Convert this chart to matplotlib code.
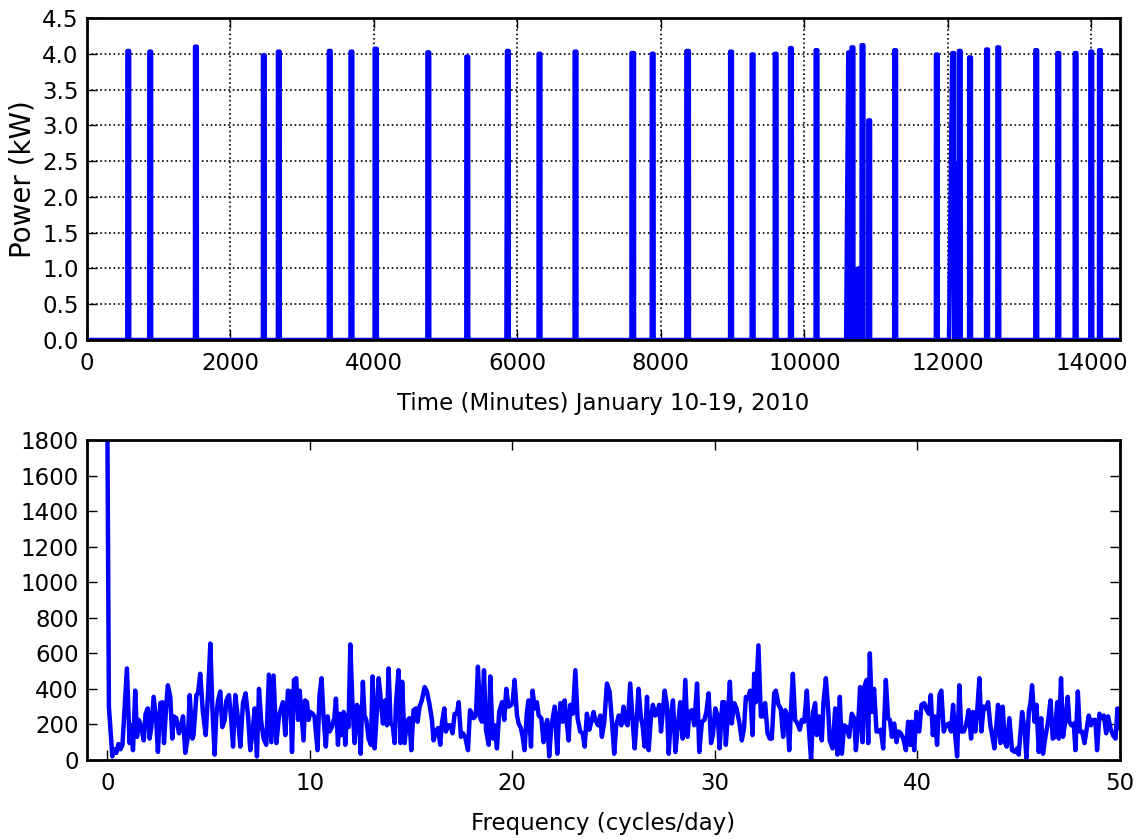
import numpy as np
import matplotlib
matplotlib.use("Agg")
import matplotlib.pyplot as plt
from matplotlib.ticker import FormatStrFormatter

# --- top panel: heater on-events (centre minute, duration, kW, ramp-up minutes)
ev_mid = [575, 881, 1518, 2465, 2674, 3384, 3686, 4025, 4758, 5301, 5867, 6308,
          6810, 7608, 7886, 8373, 8978, 9279, 9600, 9813, 10170, 10625, 10671,
          10751, 10811, 10904, 11266, 11847, 12074, 12120, 12167, 12310, 12547,
          12704, 13233, 13540, 13782, 14000, 14121]
ev_len = [25, 25, 25, 25, 25, 25, 25, 30, 25, 25, 25, 25,
          25, 35, 25, 35, 25, 25, 25, 25, 25, 25, 25,
          10, 25, 25, 25, 25, 25, 40, 25, 25, 25,
          25, 25, 25, 25, 25, 25]
ev_kw = [4.04, 4.03, 4.10, 3.98, 4.03, 4.04, 4.03, 4.07, 4.02, 3.96, 4.04, 4.00,
         4.03, 4.01, 4.00, 4.04, 4.03, 3.99, 4.00, 4.08, 4.05, 4.02, 4.09,
         1.00, 4.12, 3.07, 4.05, 3.99, 4.01, 2.46, 4.04, 3.95, 4.06,
         4.09, 4.05, 4.01, 4.01, 4.03, 4.05]
ev_rise = [1, 1, 1, 1, 1, 1, 1, 1, 1, 1, 8, 1,
           1, 1, 1, 1, 1, 1, 1, 1, 1, 30, 1,
           25, 1, 1, 1, 1, 45, 1, 1, 1, 1,
           1, 1, 1, 1, 1, 1]
t_end = 14400

# --- bottom panel: power spectrum
freq = [0.0, 0.08, 0.25, 0.35, 0.45, 0.55, 0.65, 0.75, 0.97, 1.1, 1.18, 1.27, 1.38, 1.47,
        1.56, 1.68, 1.8, 1.89, 2.0, 2.09, 2.17, 2.29, 2.42, 2.5, 2.62, 2.72, 2.8, 2.91,
        2.99, 3.11, 3.21, 3.28, 3.41, 3.54, 3.65, 3.74, 3.85, 3.98, 4.07, 4.2, 4.26, 4.4,
        4.48, 4.59, 4.72, 4.86, 4.97, 5.09, 5.19, 5.3, 5.38, 5.47, 5.58, 5.68, 5.8, 5.88,
        6.01, 6.12, 6.21, 6.32, 6.45, 6.57, 6.7, 6.83, 6.95, 7.06, 7.19, 7.28, 7.39, 7.49,
        7.6, 7.72, 7.85, 7.98, 8.1, 8.21, 8.35, 8.48, 8.67, 8.79, 8.92, 9.04, 9.12, 9.22,
        9.33, 9.42, 9.5, 9.69, 9.77, 9.86, 9.94, 10.02, 10.14, 10.23, 10.38, 10.48, 10.58,
        10.68, 10.79, 10.88, 10.98, 11.09, 11.21, 11.29, 11.39, 11.47, 11.55, 11.67, 11.75,
        11.83, 11.91, 12.0, 12.11, 12.21, 12.33, 12.41, 12.51, 12.62, 12.7, 12.79, 12.9,
        13.02, 13.1, 13.2, 13.31, 13.4, 13.53, 13.61, 13.72, 13.81, 13.89, 13.99, 14.09,
        14.19, 14.25, 14.38, 14.48, 14.56, 14.68, 14.79, 14.91, 15.01, 15.12, 15.24, 15.32,
        15.42, 15.53, 15.67, 15.78, 15.9, 16.03, 16.11, 16.23, 16.33, 16.44, 16.52, 16.64,
        16.72, 16.82, 16.93, 17.05, 17.15, 17.26, 17.35, 17.46, 17.56, 17.67, 17.81, 17.91,
        18.0, 18.09, 18.2, 18.3, 18.42, 18.5, 18.6, 18.7, 18.83, 18.91, 19.03, 19.12, 19.24,
        19.35, 19.49, 19.6, 19.7, 19.81, 19.95, 20.01, 20.11, 20.23, 20.31, 20.42, 20.51,
        20.6, 20.72, 20.8, 20.92, 21.0, 21.1, 21.21, 21.3, 21.43, 21.54, 21.63, 21.72, 21.82,
        21.92, 22.09, 22.22, 22.28, 22.37, 22.48, 22.58, 22.7, 22.78, 22.86, 22.99, 23.11,
        23.22, 23.35, 23.47, 23.57, 23.68, 23.8, 23.9, 24.01, 24.09, 24.23, 24.34, 24.42,
        24.54, 24.67, 24.8, 24.92, 25.03, 25.13, 25.25, 25.38, 25.49, 25.58, 25.69, 25.82,
        25.94, 26.04, 26.15, 26.23, 26.35, 26.43, 26.53, 26.65, 26.73, 26.84, 26.94, 27.06,
        27.14, 27.25, 27.34, 27.42, 27.52, 27.63, 27.72, 27.83, 27.93, 28.05, 28.16, 28.29,
        28.41, 28.54, 28.65, 28.74, 28.87, 28.98, 29.12, 29.23, 29.36, 29.48, 29.58, 29.69,
        29.81, 29.9, 30.02, 30.14, 30.23, 30.37, 30.46, 30.54, 30.64, 30.74, 30.83, 30.95,
        31.07, 31.2, 31.33, 31.44, 31.53, 31.64, 31.74, 31.86, 31.94, 32.02, 32.15, 32.27,
        32.38, 32.48, 32.6, 32.71, 32.81, 32.93, 33.01, 33.14, 33.25, 33.37, 33.47, 33.58,
        33.67, 33.75, 33.85, 33.96, 34.08, 34.19, 34.29, 34.41, 34.54, 34.65, 34.75, 34.85,
        34.95, 35.03, 35.15, 35.28, 35.36, 35.48, 35.59, 35.67, 35.81, 35.94, 36.05, 36.17,
        36.27, 36.38, 36.5, 36.63, 36.76, 36.88, 36.96, 37.07, 37.17, 37.29, 37.37, 37.49,
        37.57, 37.65, 37.75, 37.86, 37.98, 38.08, 38.19, 38.31, 38.44, 38.55, 38.64, 38.74,
        38.85, 38.97, 39.06, 39.18, 39.3, 39.43, 39.54, 39.64, 39.72, 39.84, 39.95, 40.09,
        40.2, 40.33, 40.46, 40.56, 40.66, 40.76, 40.85, 40.97, 41.09, 41.18, 41.3, 41.41,
        41.55, 41.66, 41.76, 41.88, 41.96, 42.07, 42.17, 42.29, 42.4, 42.53, 42.65, 42.75,
        42.86, 42.96, 43.06, 43.16, 43.27, 43.39, 43.49, 43.6, 43.72, 43.8, 43.88, 43.98,
        44.1, 44.21, 44.31, 44.41, 44.54, 44.67, 44.81, 44.92, 45.0, 45.17, 45.3, 45.38,
        45.5, 45.58, 45.66, 45.78, 45.88, 45.99, 46.11, 46.2, 46.32, 46.45, 46.57, 46.68,
        46.78, 46.9, 46.98, 47.09, 47.19, 47.31, 47.42, 47.5, 47.6, 47.72, 47.8, 47.92,
        48.02, 48.13, 48.25, 48.34, 48.46, 48.57, 48.67, 48.79, 48.87, 48.99, 49.09, 49.2,
        49.32, 49.41, 49.53, 49.65, 49.78, 49.88, 49.97]
power = [2000, 300, 20, 60, 40, 90, 60, 85, 515, 95, 195, 55, 390, 130,
         225, 185, 110, 260, 290, 120, 180, 355, 215, 45, 320, 325, 95, 300,
         420, 355, 120, 245, 235, 150, 195, 245, 40, 130, 365, 120, 140, 365,
         375, 485, 270, 140, 365, 655, 290, 30, 245, 335, 385, 185, 225, 335,
         365, 225, 75, 365, 235, 75, 320, 375, 250, 55, 180, 290, 20, 400,
         215, 120, 85, 480, 100, 475, 95, 250, 325, 140, 390, 385, 45, 450,
         460, 225, 390, 110, 335, 325, 225, 270, 260, 245, 55, 365, 460,
         235, 75, 245, 160, 185, 235, 345, 85, 260, 140, 270, 85,
         250, 185, 650, 300, 95, 310, 290, 35, 440, 250, 225, 120,
         85, 470, 65, 270, 460, 310, 205, 335, 195, 515, 205, 195,
         95, 310, 505, 95, 440, 95, 215, 235, 55, 280, 290, 215,
         300, 335, 410, 385, 320, 225, 110, 160, 180, 85, 205, 290,
         160, 195, 195, 150, 260, 260, 325, 130, 150, 130, 55, 280,
         260, 235, 250, 525, 235, 215, 505, 170, 85, 470, 120, 195, 65,
         270, 325, 225, 400, 300, 310, 320, 450, 250, 205, 180, 130,
         55, 270, 335, 75, 390, 290, 325, 250, 235, 100, 185, 225, 20,
         185, 300, 35, 195, 320, 215, 335, 195, 110, 310, 260, 505,
         235, 160, 150, 75, 260, 170, 215, 270, 225, 195, 250, 130,
         215, 430, 385, 215, 35, 195, 250, 195, 300, 215, 195, 430,
         215, 65, 245, 400, 235, 195, 75, 355, 55, 235, 310, 250,
         260, 310, 160, 260, 390, 310, 35, 250, 335, 45, 180, 325,
         120, 450, 130, 270, 280, 195, 430, 45, 215, 225, 270, 375,
         95, 140, 290, 250, 65, 325, 325, 85, 250, 440, 205, 320,
         290, 215, 110, 180, 355, 345, 390, 140, 485, 325, 645, 245,
         245, 320, 150, 120, 120, 375, 390, 310, 290, 130, 280, 245,
         55, 270, 485, 225, 205, 170, 225, 215, 390, 160, 0, 270,
         320, 140, 245, 110, 320, 460, 290, 110, 65, 290, 30, 355,
         35, 195, 185, 130, 260, 235, 55, 195, 410, 100, 410, 450,
         95, 600, 270, 400, 160, 160, 170, 65, 450, 235, 225, 130,
         205, 100, 160, 150, 120, 55, 215, 85, 215, 55, 270, 160,
         310, 320, 280, 260, 365, 140, 245, 85, 365, 390, 160, 195,
         205, 160, 310, 120, 20, 420, 160, 160, 195, 280, 120, 270,
         160, 290, 460, 160, 300, 290, 325, 195, 120, 65, 170, 310,
         95, 300, 100, 75, 235, 55, 45, 65, 30, 270, 160, 10,
         270, 320, 420, 215, 310, 45, 235, 35, 130, 215, 335, 120,
         130, 325, 120, 460, 130, 225, 355, 215, 195, 205, 55, 385,
         160, 160, 95, 160, 250, 195, 225, 225, 55, 260, 235, 250,
         150, 245, 180, 140, 120, 290, 180]

plt.rcParams["font.family"] = ["DejaVu Sans"]
fs = 16.5

# build the minute series from the events
t, p = [0], [0.0]
for mid, ln, kw, rise in zip(ev_mid, ev_len, ev_kw, ev_rise):
    s, e = mid - ln / 2, mid + ln / 2
    t += [s - rise, s, e, e + 1]
    p += [0, kw, kw, 0]
t.append(t_end)
p.append(0)

fig = plt.figure(figsize=(11.42, 8.39), dpi=100)
ax1 = fig.add_axes([0.0762, 0.5948, 0.9045, 0.3837])
ax2 = fig.add_axes([0.0762, 0.0942, 0.9045, 0.3814])

ax1.plot(t, p, color="blue", lw=3.2, solid_joinstyle="round", solid_capstyle="round")
ax1.set_xlim(0, t_end)
ax1.set_ylim(0, 4.5)
ax1.set_xticks(np.arange(0, 14001, 2000))
ax1.set_yticks(np.arange(0, 4.51, 0.5))
ax1.yaxis.set_major_formatter(FormatStrFormatter("%.1f"))
ax1.grid(True, color="black", linestyle=":", lw=1.2)
ax1.set_xlabel("Time (Minutes) January 10-19, 2010", fontsize=fs, labelpad=12)
ax1.set_ylabel("Power (kW)", fontsize=20, labelpad=4)

ax2.plot(freq, power, color="blue", lw=3.2, solid_joinstyle="round")
ax2.set_xlim(-1, 50)
ax2.set_ylim(0, 1800)
ax2.set_xticks(np.arange(0, 51, 10))
ax2.set_yticks(np.arange(0, 1801, 200))
ax2.set_xlabel("Frequency (cycles/day)", fontsize=fs, labelpad=12)

for ax in (ax1, ax2):
    ax.tick_params(direction="in", length=7, width=1, top=True, right=True,
                   labelsize=fs, pad=6)
    ax.tick_params(axis="x", pad=9)
    for sp in ax.spines.values():
        sp.set_linewidth(2)

fig.savefig("out.png", dpi=100)
